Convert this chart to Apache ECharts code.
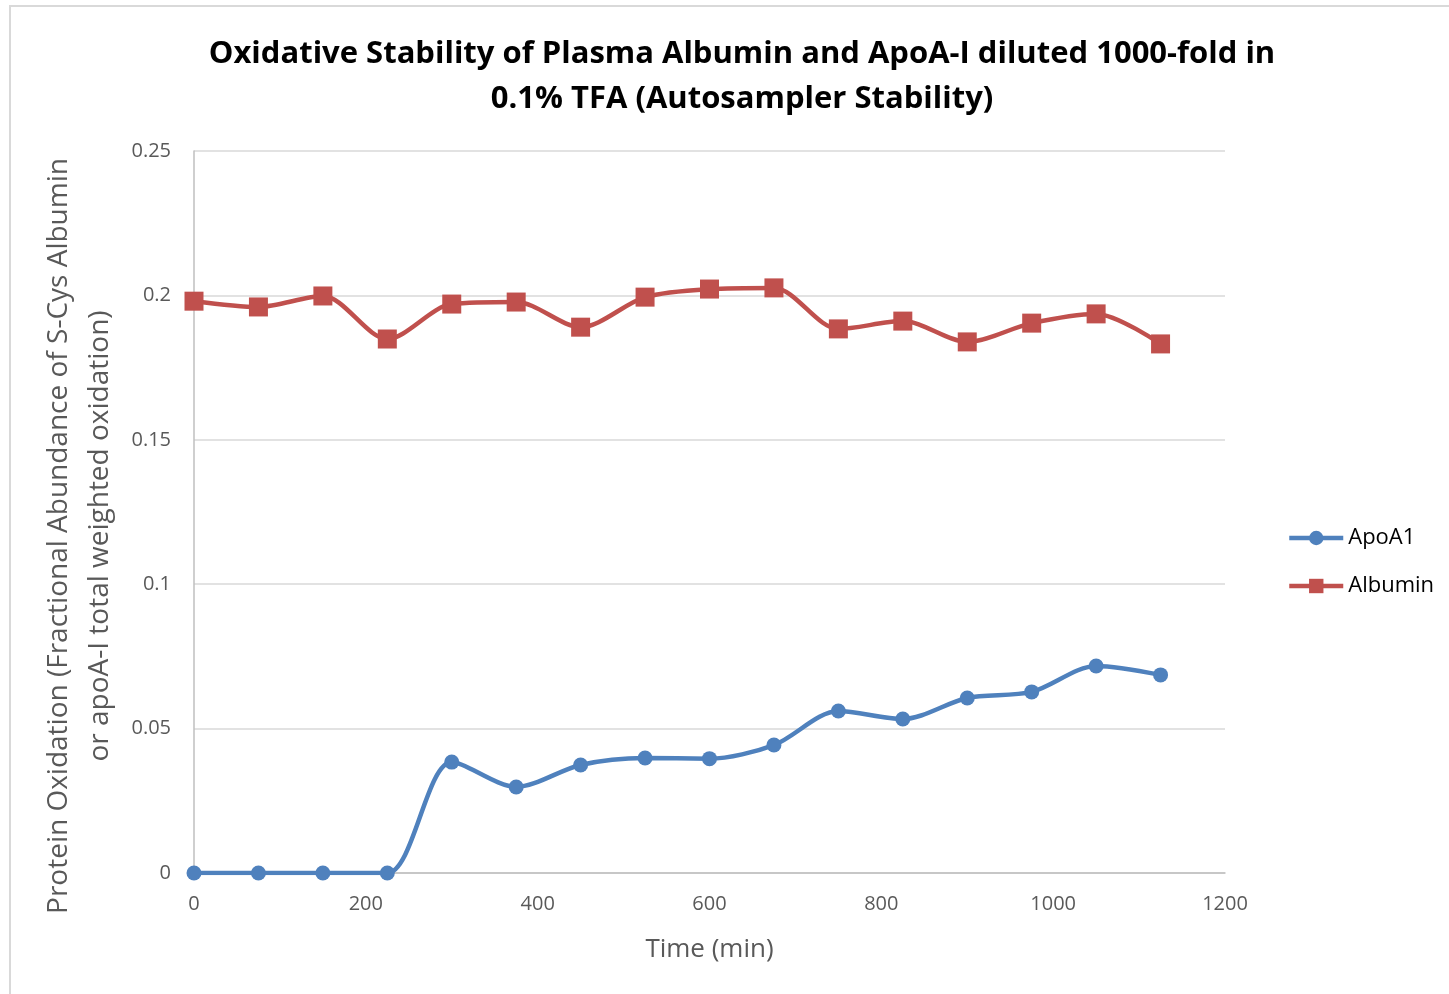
<!DOCTYPE html>
<html>
<head>
<meta charset="utf-8">
<script src="https://cdn.jsdelivr.net/npm/echarts@6/dist/echarts.min.js"></script>
<style>
  html, body { margin: 0; padding: 0; background: #fff; }
  #chart { width: 1449px; height: 994px; }
</style>
</head>
<body>
<div id="chart"></div>
<script>
// Sampling times (min)
const timeMin = [0, 75, 150, 225, 300, 375, 450, 525, 600, 675, 750, 825, 900, 975, 1050, 1125];
// ApoA-I total weighted oxidation
const apoA1 = [0, 0, 0, 0, 0.0384, 0.0298, 0.0374, 0.0398, 0.0396, 0.0443, 0.0561, 0.0533, 0.0606, 0.0627, 0.0717, 0.0686];
// Fractional abundance of S-Cys albumin
const albumin = [0.198, 0.196, 0.1998, 0.1849, 0.197, 0.1977, 0.189, 0.1994, 0.2022, 0.2026, 0.1884, 0.1911, 0.1839, 0.1904, 0.1936, 0.1832];

const font = '"Open Sans", "Noto Sans", sans-serif';
const pair = (xs, ys) => xs.map((x, i) => [x, ys[i]]);

const chart = echarts.init(document.getElementById('chart'), null, { renderer: 'canvas' });
chart.setOption({
  backgroundColor: '#ffffff',
  animation: false,
  graphic: [{
    type: 'rect',
    shape: { x: 10, y: 6, width: 1460, height: 1000 },
    style: { fill: 'none', stroke: '#d9d9d9', lineWidth: 2 },
    silent: true
  }],
  title: {
    text: 'Oxidative Stability of Plasma Albumin and ApoA-I diluted 1000-fold in\n0.1% TFA (Autosampler Stability)',
    left: 737,
    top: 27,
    textAlign: 'center',
    textStyle: { fontFamily: font, fontSize: 31, fontWeight: 'bold', color: '#000', lineHeight: 45 }
  },
  legend: {
    orient: 'vertical',
    left: 1282,
    top: 522,
    itemGap: 26,
    itemWidth: 54,
    itemHeight: 18,
    lineStyle: { width: 4.5 },
    textStyle: { fontFamily: font, fontSize: 22, color: '#000' },
    data: ['ApoA1', 'Albumin']
  },
  grid: { left: 194, right: 224, top: 151, bottom: 121, outerBoundsMode: 'none' },
  xAxis: {
    type: 'value',
    min: 0, max: 1200, interval: 200,
    name: 'Time (min)',
    nameLocation: 'middle',
    nameGap: 64,
    nameTextStyle: { fontFamily: font, fontSize: 26, color: '#595959' },
    axisLine: { show: true, lineStyle: { color: '#bfbfbf', width: 1.5 } },
    axisTick: { show: false },
    axisLabel: { fontFamily: font, fontSize: 20, color: '#595959', margin: 21, formatter: v => String(v) },
    splitLine: { show: false }
  },
  yAxis: {
    type: 'value',
    min: 0, max: 0.25, interval: 0.05,
    name: 'Protein Oxidation (Fractional Abundance of S-Cys Albumin\nor apoA-I total weighted oxidation)',
    nameLocation: 'middle',
    nameGap: 60,
    nameRotate: 90,
    nameTextStyle: { fontFamily: font, fontSize: 28, color: '#595959', lineHeight: 41, padding: [0, 48, 0, 0] },
    axisLine: { show: true, lineStyle: { color: '#bfbfbf', width: 1.5 } },
    axisTick: { show: false },
    axisLabel: { fontFamily: font, fontSize: 20, color: '#595959', margin: 23, formatter: v => String(v) },
    splitLine: { show: true, lineStyle: { color: '#d9d9d9', width: 1.5 } }
  },
  series: [
    {
      name: 'ApoA1',
      type: 'line',
      data: pair(timeMin, apoA1),
      smooth: 0.3,
      symbol: 'circle',
      symbolSize: 15,
      itemStyle: { color: '#4f81bd' },
      lineStyle: { color: '#4f81bd', width: 4.5 }
    },
    {
      name: 'Albumin',
      type: 'line',
      data: pair(timeMin, albumin),
      smooth: 0.3,
      symbol: 'rect',
      symbolSize: 19,
      itemStyle: { color: '#c0504d' },
      lineStyle: { color: '#c0504d', width: 4.5 }
    }
  ]
});
</script>
</body>
</html>
